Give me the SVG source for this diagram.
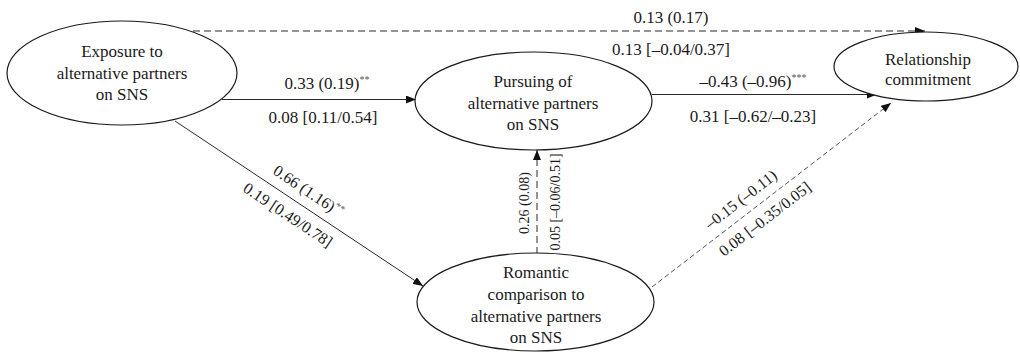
<svg xmlns="http://www.w3.org/2000/svg" width="1020" height="354" viewBox="0 0 1020 354">
<style>
  .node { fill: #ffffff; stroke: #1a1a1a; stroke-width: 1.2; }
  .nt { font-family: "Liberation Serif", "Times New Roman", serif; font-size: 17px; fill: #1a1a1a; text-anchor: middle; }
  .lb { font-family: "Liberation Serif", "Times New Roman", serif; font-size: 17px; fill: #1a1a1a; text-anchor: middle; }
  .lbd { font-family: "Liberation Serif", "Times New Roman", serif; font-size: 16px; fill: #1a1a1a; text-anchor: middle; }
  .lbv { font-family: "Liberation Serif", "Times New Roman", serif; font-size: 14px; fill: #1a1a1a; text-anchor: middle; }
  .sup { font-size: 10px; fill: #555555; }
  .solid { stroke: #2a2a2a; stroke-width: 1; fill: none; }
  .dash { stroke: #2a2a2a; stroke-width: 1; fill: none; stroke-dasharray: 7 4; }
  .dashf { stroke: #2a2a2a; stroke-width: 0.8; fill: none; stroke-dasharray: 5 3; }
</style>
<defs>
  <marker id="arr" markerWidth="10" markerHeight="8" refX="10" refY="4" orient="auto" markerUnits="userSpaceOnUse">
    <path d="M0,0 L10,4 L0,8 Z" fill="#111111"/>
  </marker>
</defs>

<g id="connectors">
  <line class="dash" x1="193" y1="31" x2="925" y2="31" marker-end="url(#arr)"/>
  <line class="solid" x1="222" y1="99.5" x2="416" y2="99.5" marker-end="url(#arr)"/>
  <line class="solid" x1="652" y1="94.5" x2="877" y2="94.5" marker-end="url(#arr)"/>
  <line class="solid" stroke-width="0.8" x1="175" y1="121" x2="423" y2="286" marker-end="url(#arr)"/>
  <line class="dash" x1="537" y1="254" x2="537" y2="150" marker-end="url(#arr)"/>
  <line class="dashf" x1="652" y1="287" x2="891" y2="103" marker-end="url(#arr)"/>
</g>

<g id="edge-labels">
  <text class="lb" x="671" y="23">0.13 (0.17)</text>
  <text class="lb" x="671" y="55">0.13 [–0.04/0.37]</text>
  <text class="lb" x="327" y="89">0.33 (0.19)<tspan class="sup" dy="-6">**</tspan></text>
  <text class="lb" x="323" y="123">0.08 [0.11/0.54]</text>
  <text class="lb" x="753" y="87">–0.43 (–0.96)<tspan class="sup" dy="-6">***</tspan></text>
  <text class="lb" x="753" y="122">0.31 [–0.62/–0.23]</text>
  <g transform="translate(300,204) rotate(33.64)">
    <text class="lbd" x="0" y="-10">0.66 (1.16)<tspan class="sup" dy="-6">**</tspan></text>
  </g>
  <g transform="translate(296.6,201.9) rotate(33.64)">
    <text class="lbd" x="0" y="21">0.19 [0.49/0.78]</text>
  </g>
  <g transform="translate(529,203) rotate(-90)">
    <text class="lbv" x="0" y="0">0.26 (0.08)</text>
  </g>
  <g transform="translate(560,202) rotate(-90)">
    <text class="lbv" x="0" y="0">0.05 [–0.06/0.51]</text>
  </g>
  <g transform="translate(750.3,211.6) rotate(-37.5)">
    <text class="lbd" x="0" y="-10">–0.15 (–0.11)</text>
  </g>
  <g transform="translate(755.9,207.3) rotate(-37.5)">
    <text class="lbd" x="0" y="20">0.08 [–0.35/0.05]</text>
  </g>
</g>

<g id="node-exposure">
  <ellipse class="node" cx="122" cy="73" rx="115" ry="52"/>
  <text class="nt" x="122" y="57">Exposure to</text>
  <text class="nt" x="122" y="79">alternative partners</text>
  <text class="nt" x="122" y="100">on SNS</text>
</g>

<g id="node-pursuing">
  <ellipse class="node" cx="533.5" cy="101" rx="118.5" ry="49"/>
  <text class="nt" x="533" y="87">Pursuing of</text>
  <text class="nt" x="533" y="108.5">alternative partners</text>
  <text class="nt" x="533" y="130">on SNS</text>
</g>

<g id="node-commitment">
  <ellipse class="node" cx="926" cy="66.5" rx="92" ry="34.5"/>
  <text class="nt" x="928" y="65">Relationship</text>
  <text class="nt" x="928" y="85">commitment</text>
</g>

<g id="node-romantic">
  <ellipse class="node" cx="535.5" cy="302" rx="118.5" ry="49"/>
  <text class="nt" x="536" y="278">Romantic</text>
  <text class="nt" x="536" y="300">comparison to</text>
  <text class="nt" x="536" y="321.5">alternative partners</text>
  <text class="nt" x="536" y="343">on SNS</text>
</g>
</svg>
